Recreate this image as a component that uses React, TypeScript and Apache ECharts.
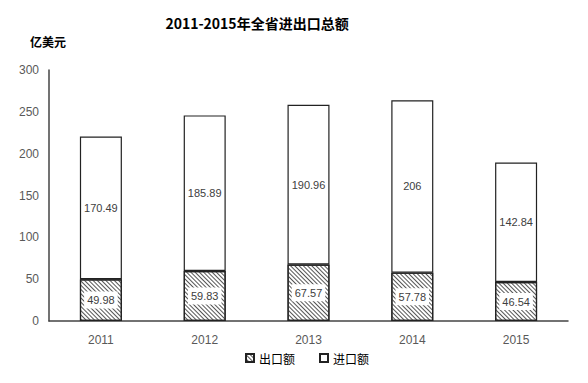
import React, { useEffect, useRef } from "react";
import * as echarts from "echarts";

const categories = ["2011", "2012", "2013", "2014", "2015"];
const exportValues = [49.98, 59.83, 67.57, 57.78, 46.54];
const importValues = [170.49, 185.89, 190.96, 206, 142.84];
const yTicks = { min: 0, max: 300, interval: 50 };

const FONT = "'Liberation Sans', 'Noto Sans CJK SC', sans-serif";
const CJK = "'Noto Sans CJK SC', sans-serif";

export default function App() {
  const ref = useRef<HTMLDivElement>(null);
  useEffect(() => {
    if (!ref.current) return;
    const chart = echarts.init(ref.current, null, { renderer: "svg" });
    const hatch = {
      symbol: "rect",
      symbolSize: 1,
      dashArrayX: [1, 0],
      dashArrayY: [1, 1.5],
      rotation: Math.PI / 4,
      color: "#555",
      backgroundColor: "#fff",
    };
    chart.setOption({
      animation: false,
      backgroundColor: "#fff",
      title: {
        text: "2011-2015年全省进出口总额",
        left: 252,
        top: 11,
        textAlign: "center",
        textStyle: { fontSize: 14, fontWeight: "bold", color: "#000", fontFamily: CJK },
      },
      graphic: [
        {
          type: "text",
          left: 30,
          top: 35,
          style: { text: "亿美元", fontSize: 12, fontWeight: "bold", fill: "#000", fontFamily: CJK },
        },
      ],
      legend: {
        bottom: 14,
        left: 240,
        itemWidth: 8,
        itemHeight: 8,
        itemGap: 24,
        icon: "rect",
        textStyle: { fontSize: 12, color: "#000", fontFamily: CJK },
        data: ["出口额", "进口额"],
      },
      grid: { left: 49, right: 20, top: 70, bottom: 62 },
      xAxis: {
        type: "category",
        data: categories,
        axisLine: { lineStyle: { color: "#444", width: 1.5 } },
        axisTick: { show: false },
        axisLabel: { color: "#595959", fontSize: 12, fontFamily: FONT, margin: 13 },
      },
      yAxis: {
        type: "value",
        min: yTicks.min,
        max: yTicks.max,
        interval: yTicks.interval,
        axisLine: { show: true, lineStyle: { color: "#444", width: 1.5 } },
        axisTick: { show: false },
        splitLine: { show: false },
        axisLabel: { color: "#595959", fontSize: 12, fontFamily: FONT, margin: 10 },
      },
      series: [
        {
          name: "出口额",
          type: "bar",
          stack: "total",
          barWidth: 42,
          data: exportValues,
          itemStyle: { color: "#fff", borderColor: "#222", borderWidth: 1.2, decal: hatch },
          label: {
            show: true,
            position: "inside",
            color: "#404040",
            fontSize: 11,
            fontFamily: FONT,
            backgroundColor: "#fff",
            padding: [3, 3],
          },
        },
        {
          name: "进口额",
          type: "bar",
          stack: "total",
          barWidth: 42,
          data: importValues,
          itemStyle: { color: "#fff", borderColor: "#222", borderWidth: 1.2 },
          label: {
            show: true,
            position: "inside",
            color: "#404040",
            fontSize: 11,
            fontFamily: FONT,
          },
        },
      ],
    });
    return () => chart.dispose();
  }, []);
  return <div ref={ref} style={{ width: 588, height: 383, position: "absolute", left: 0, top: 0 }} />;
}
